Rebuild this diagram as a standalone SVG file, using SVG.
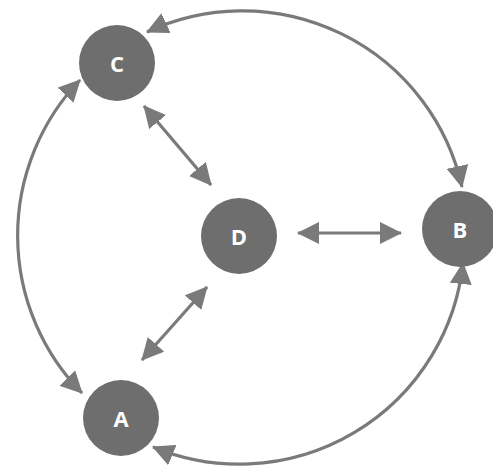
<svg xmlns="http://www.w3.org/2000/svg" width="493" height="470" viewBox="0 0 493 470">
<style>
.node{fill:#6e6e6e}
.lbl{fill:#ffffff;font-family:"Open Sans","Liberation Sans",sans-serif;font-weight:bold;font-size:22px;text-anchor:middle;dominant-baseline:central}
.edge{fill:none;stroke:#7a7a7a;stroke-width:3.2}
</style>
<defs>
<marker id="ah" markerUnits="userSpaceOnUse" markerWidth="22" markerHeight="22" viewBox="0 0 22 22" refX="21" refY="11" orient="auto-start-reverse">
<path d="M0,0 L22,11 L0,22 z" fill="#7a7a7a"/>
</marker>
</defs>
<rect width="493" height="470" fill="#ffffff"/>
<g id="connectors">
<path class="edge" d="M147,32 A225,225 0 0,1 462,187" marker-start="url(#ah)" marker-end="url(#ah)"/>
<path class="edge" d="M463,263 A225,225 0 0,1 153,447" marker-start="url(#ah)" marker-end="url(#ah)"/>
<path class="edge" d="M82,393 A225,225 0 0,1 80,80" marker-start="url(#ah)" marker-end="url(#ah)"/>
<path class="edge" d="M298,233 L401,233" marker-start="url(#ah)" marker-end="url(#ah)"/>
<path class="edge" d="M144,106 L211,185" marker-start="url(#ah)" marker-end="url(#ah)"/>
<path class="edge" d="M142,360 L207,287" marker-start="url(#ah)" marker-end="url(#ah)"/>
</g>
<g id="node-C"><circle class="node" cx="117" cy="63" r="38"/><text class="lbl" x="117" y="63">C</text></g>
<g id="node-D"><circle class="node" cx="239" cy="236" r="38"/><text class="lbl" x="239" y="236">D</text></g>
<g id="node-B"><circle class="node" cx="460" cy="229" r="38"/><text class="lbl" x="460" y="229">B</text></g>
<g id="node-A"><circle class="node" cx="121" cy="418" r="38"/><text class="lbl" x="121" y="418">A</text></g>
</svg>
